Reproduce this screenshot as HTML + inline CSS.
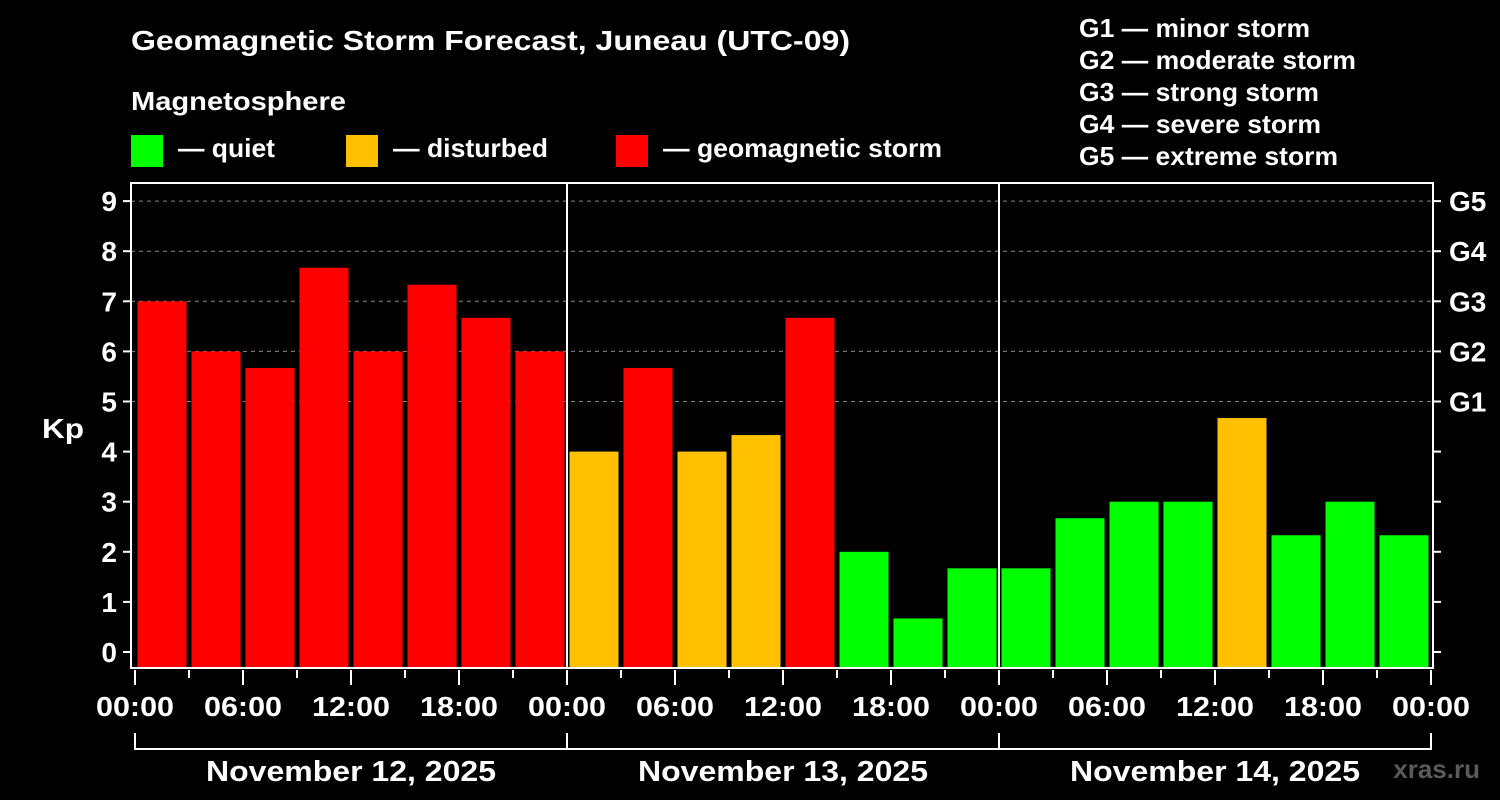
<!DOCTYPE html>
<html><head><meta charset="utf-8"><style>
html,body{margin:0;padding:0;background:#000;}
svg{display:block;font-family:"Liberation Sans",Arial,sans-serif;font-weight:bold;}
</style></head><body>
<svg id="c" width="1500" height="800" viewBox="0 0 1500 800">
<rect width="1500" height="800" fill="#000"/>
<text x="131" y="50" font-size="28" fill="#fff" textLength="719" lengthAdjust="spacingAndGlyphs">Geomagnetic Storm Forecast, Juneau (UTC-09)</text>
<text x="131" y="110" font-size="26" fill="#fff" textLength="215" lengthAdjust="spacingAndGlyphs">Magnetosphere</text>
<g><rect x="131" y="135" width="32" height="32" fill="#00ff00"/><text x="178" y="157" font-size="26" fill="#fff" textLength="97" lengthAdjust="spacingAndGlyphs">— quiet</text></g>
<g><rect x="346" y="135" width="32" height="32" fill="#ffc000"/><text x="393" y="157" font-size="26" fill="#fff" textLength="155" lengthAdjust="spacingAndGlyphs">— disturbed</text></g>
<g><rect x="616" y="135" width="32" height="32" fill="#ff0000"/><text x="663" y="157" font-size="26" fill="#fff" textLength="279" lengthAdjust="spacingAndGlyphs">— geomagnetic storm</text></g>
<g font-size="26" fill="#fff">
<text x="1079" y="37" textLength="231" lengthAdjust="spacingAndGlyphs">G1 — minor storm</text>
<text x="1079" y="69" textLength="277" lengthAdjust="spacingAndGlyphs">G2 — moderate storm</text>
<text x="1079" y="101" textLength="240" lengthAdjust="spacingAndGlyphs">G3 — strong storm</text>
<text x="1079" y="133" textLength="242" lengthAdjust="spacingAndGlyphs">G4 — severe storm</text>
<text x="1079" y="165" textLength="259" lengthAdjust="spacingAndGlyphs">G5 — extreme storm</text>
</g>
<text x="42" y="438" font-size="28" fill="#fff" textLength="42" lengthAdjust="spacingAndGlyphs">Kp</text>
<text x="1480" y="778" font-size="26" fill="#5a5a5a" text-anchor="end">xras.ru</text>
<g id="plot"></g>
</svg>
<script>
const kpValues=[7,6,5.67,7.67,6,7.33,6.67,6, 4,5.67,4,4.33,6.67,2,0.67,1.67, 1.67,2.67,3,3,4.67,2.33,3,2.33];
const dayLabels=["November 12, 2025","November 13, 2025","November 14, 2025"];
const hourLabels=["00:00","06:00","12:00","18:00"];
const yTicks=[0,1,2,3,4,5,6,7,8,9];
const gLabels=["G1","G2","G3","G4","G5"];
const X0=135,SLOT=54,Y0=652,KPPX=50.1;
const L=131,R=1433,T=183,B=668;
const xs=i=>X0+i*SLOT;
const ys=v=>Y0-v*KPPX;
const NS="http://www.w3.org/2000/svg";
const g=document.getElementById('plot');
function mk(tag,at){const e=document.createElementNS(NS,tag);for(const k in at)e.setAttribute(k,at[k]);g.appendChild(e);return e;}
for(let k=5;k<=9;k++){const l=mk('line',{x1:L,x2:R,y1:ys(k),y2:ys(k),stroke:'#888','stroke-width':1,'stroke-dasharray':'4,4'});

}
kpValues.forEach((v,i)=>{const c=v>=5?'#ff0000':(v>=4?'#ffc000':'#00ff00');
const top=ys(v);const r=mk('rect',{x:xs(i)+2.5,y:top,width:49,height:B-top,fill:c});

});
const f=mk('rect',{x:L,y:T,width:R-L,height:B-T,fill:'none',stroke:'#fff','stroke-width':2});


for(let d=1;d<3;d++){const l=mk('line',{x1:xs(d*8),x2:xs(d*8),y1:T,y2:B,stroke:'#fff','stroke-width':2});

}
yTicks.forEach(k=>{const y=ys(k);
mk('line',{x1:L-8,x2:L,y1:y,y2:y,stroke:'#fff','stroke-width':2});
mk('line',{x1:R,x2:R+8,y1:y,y2:y,stroke:'#fff','stroke-width':2});
const t=mk('text',{x:L-14,y:y+10,'font-size':28,fill:'#fff','text-anchor':'end'});t.textContent=k;

});
gLabels.forEach((s,i)=>{const t=mk('text',{x:1449,y:ys(5+i)+10,'font-size':28,fill:'#fff'});t.textContent=s;

});
for(let i=0;i<=24;i++){const x=xs(i);const major=i%2==0;
mk('line',{x1:x,x2:x,y1:B+2,y2:B+(major?17:10),stroke:'#fff','stroke-width':2});
if(major){const t=mk('text',{x:x,y:716,'font-size':28,fill:'#fff','text-anchor':'middle',textLength:78,lengthAdjust:'spacingAndGlyphs'});
t.textContent=i==24?hourLabels[0]:hourLabels[(i/2)%4];

}}
dayLabels.forEach((s,d)=>{const a=xs(d*8),b=xs(d*8+8);
mk('path',{d:`M${a},733V749H${b}V733`,fill:'none',stroke:'#fff','stroke-width':2});
const t=mk('text',{x:(a+b)/2,y:781,'font-size':29,fill:'#fff','text-anchor':'middle',textLength:290,lengthAdjust:'spacingAndGlyphs'});t.textContent=s;

});
</script>
</body></html>
